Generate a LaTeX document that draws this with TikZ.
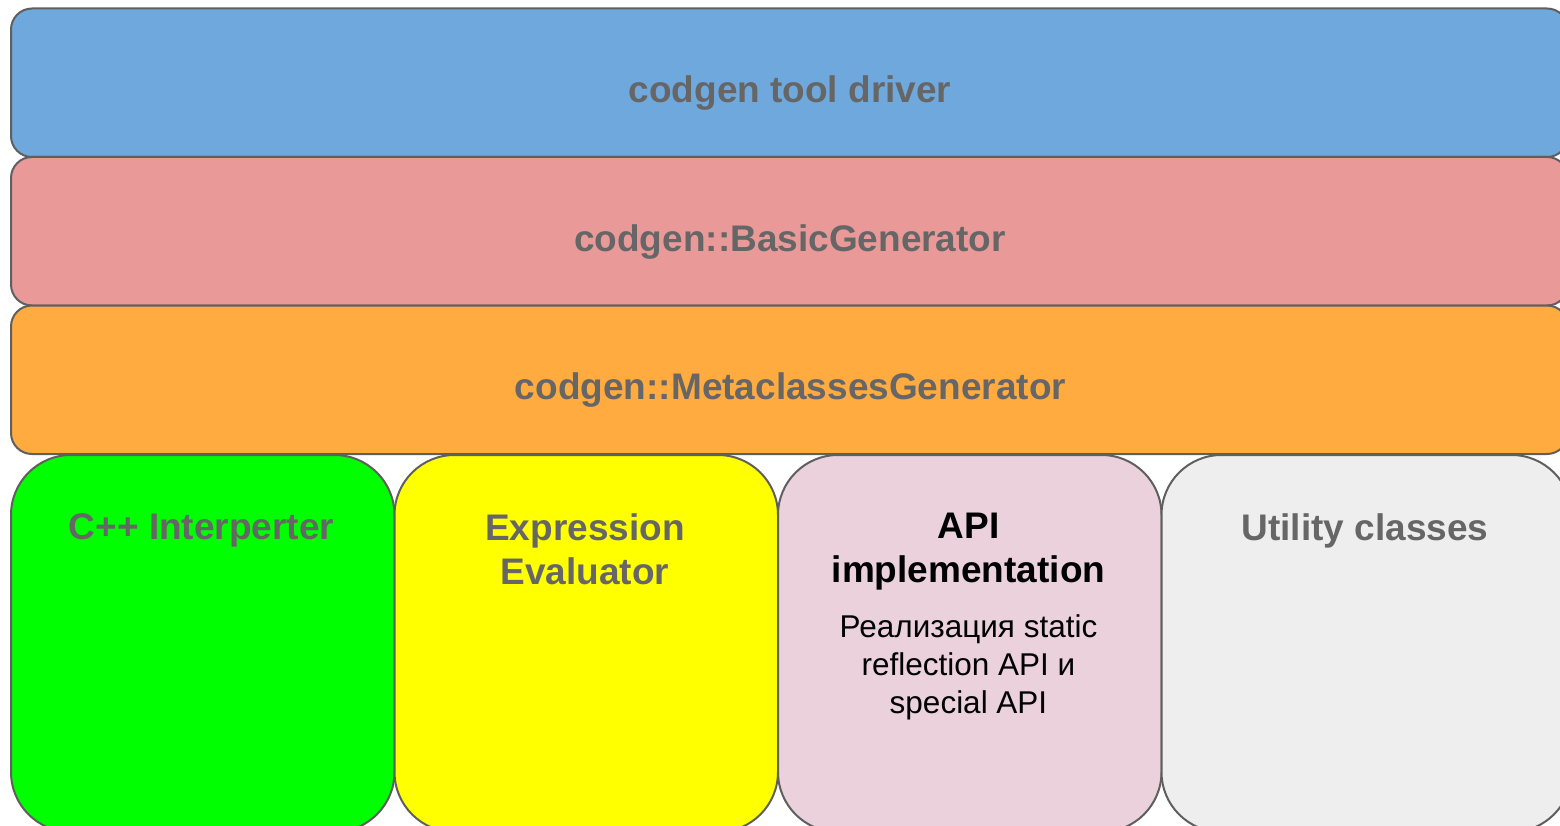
\documentclass[tikz,border=0pt]{standalone}
\usepackage{fontspec}
\setmainfont{Liberation Sans}
\definecolor{edge}{HTML}{5F5F5F}
\definecolor{labelgrey}{HTML}{666666}
\definecolor{driverblue}{HTML}{6FA8DC}
\definecolor{basicpink}{HTML}{EA9999}
\definecolor{metaorange}{HTML}{FFAB40}
\definecolor{interpgreen}{HTML}{00FF00}
\definecolor{evalyellow}{HTML}{FFFF00}
\definecolor{apipink}{HTML}{EAD1DC}
\definecolor{utilgrey}{HTML}{EEEEEE}
\begin{document}
\begin{tikzpicture}[x=1pt,y=-1pt,
  layer/.style={draw=edge, line width=2pt, rounded corners=21pt, inner sep=0pt,
    minimum width=1557pt, minimum height=148.5pt, anchor=north west},
  module/.style={draw=edge, line width=2pt, rounded corners=60pt, inner sep=0pt,
    minimum width=383.5pt, minimum height=377pt, anchor=north west},
  bigtext/.style={font=\fontsize{37}{44}\selectfont\bfseries, inner sep=0pt, align=center},
  smalltext/.style={font=\fontsize{31.5}{38}\selectfont, inner sep=0pt, align=center}]
\useasboundingbox (0,0) rectangle (1560,826);
\begin{scope}
\clip (0,0) rectangle (1560,826);
% stacked generator layers
\node[layer, fill=driverblue] (driver) at (10,7.5) {};
\node[layer, fill=basicpink] (basic) at (10,156) {};
\node[layer, fill=metaorange] (meta) at (10,304.5) {};
% component modules
\node[module, fill=interpgreen] (interp) at (10,454) {};
\node[module, fill=evalyellow] (eval) at (393.5,454) {};
\node[module, fill=apipink] (api) at (777,454) {};
\node[module, fill=utilgrey, minimum width=410pt] (util) at (1160.5,454) {};
\end{scope}
% layer captions
\node[bigtext, text=labelgrey] (drivertxt) at (790,93.5) {codgen tool driver};
\node[bigtext, text=labelgrey] (basictxt) at (790,242) {codgen::BasicGenerator};
\node[bigtext, text=labelgrey] (metatxt) at (790.5,390.5) {codgen::MetaclassesGenerator};
% module captions
\node[bigtext, text=labelgrey, anchor=north] (interptxt) at (201.5,513) {C++ Interperter};
\node[bigtext, text=labelgrey, anchor=north] (evaltxt) at (585,513) {Expression\\Evaluator};
\node[bigtext, text=black, anchor=north] (apitxt) at (968.5,513) {API\\implementation};
\node[smalltext, text=black, anchor=north] (apidesc) at (968.5,614) {Реализация static\\reflection API и\\special API};
\node[bigtext, text=labelgrey, anchor=north] (utiltxt) at (1365,513) {Utility classes};
\end{tikzpicture}
\end{document}
